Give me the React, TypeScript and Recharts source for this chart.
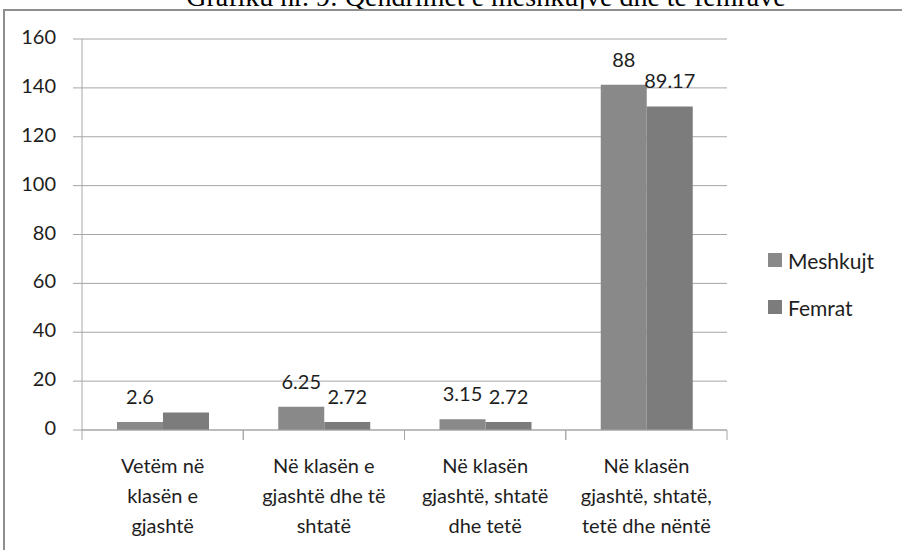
import { BarChart, Bar, XAxis, YAxis, CartesianGrid, LabelList } from "recharts";

const categories = ["cat1", "cat2", "cat3", "cat4"];
const categoryLines = [
  ["Vetëm në", "klasën e", "gjashtë"],
  ["Në klasën e", "gjashtë dhe të", "shtatë"],
  ["Në klasën", "gjashtë, shtatë", "dhe tetë"],
  ["Në klasën", "gjashtë, shtatë,", "tetë dhe nëntë"],
];
const meshkujt = [3.3, 9.5, 4.4, 141.3];
const femrat = [7.2, 3.3, 3.3, 132.4];
// printed labels do not match bar heights in the original, kept as shown
const meshkujtLabels = ["2.6", "6.25", "3.15", "88"];
const femratLabels = ["", "2.72", "2.72", "89.17"];
const yTicks = [0, 20, 40, 60, 80, 100, 120, 140, 160];

const series = [
  { key: "meshkujt", name: "Meshkujt", color: "#898989", labels: meshkujtLabels },
  { key: "femrat", name: "Femrat", color: "#7c7c7c", labels: femratLabels },
];

const data = categories.map((c, i) => ({
  cat: c,
  lines: categoryLines[i],
  meshkujt: meshkujt[i],
  femrat: femrat[i],
}));

const FONT = "Lato, 'Noto Sans', sans-serif";
const GRID = "#a6a6a6";
const TEXT = "#1e1e1e";
const PLOT_W = 645;
const BAND = PLOT_W / categories.length;

function CategoryTick({ x, y, index }: { x?: number; y?: number; index?: number }) {
  const lines = categoryLines[index ?? 0];
  return (
    <g>
      <line x1={x! - BAND / 2} x2={x! - BAND / 2} y1={430} y2={440} stroke={GRID} />
      <line x1={x! + BAND / 2} x2={x! + BAND / 2} y1={430} y2={440} stroke={GRID} />
      {lines.map((l, k) => (
        <text
          key={k}
          x={x}
          y={473 + k * 30}
          textAnchor="middle"
          fontFamily={FONT}
          fontSize={20}
          fill={TEXT}
        >
          {l}
        </text>
      ))}
    </g>
  );
}

function makeLabel(labels: string[]) {
  return function BarLabel(props: any) {
    const { x, y, width, index } = props;
    const t = labels[index];
    if (!t) return null;
    return (
      <text
        x={x + width / 2}
        y={y - 18}
        textAnchor="middle"
        fontFamily={FONT}
        fontSize={20}
        fill={TEXT}
      >
        {t}
      </text>
    );
  };
}

export default function App() {
  return (
    <div
      style={{
        position: "absolute",
        left: 0,
        top: 0,
        width: 902,
        height: 550,
        overflow: "hidden",
        background: "white",
      }}
    >
      <svg width={902} height={20} style={{ position: "absolute", left: 0, top: 0 }}>
        <text
          x={486}
          y={5.5}
          textAnchor="middle"
          fontFamily="'Liberation Serif', 'Times New Roman', serif"
          fontSize={28}
          fill="#000"
        >
          Grafiku nr. 9: Qëndrimet e meshkujve dhe të femrave
        </text>
      </svg>
      <div
        style={{
          position: "absolute",
          left: 3,
          top: 9,
          width: 1000,
          height: 700,
          border: "2px solid #8f8f8f",
          background: "white",
        }}
      />
      <div style={{ position: "absolute", left: 0, top: 0 }}>
        <BarChart
          width={902}
          height={550}
          data={data}
          margin={{ top: 39, right: 175, left: 0, bottom: 20 }}
          barGap={0}
          barSize={46}
        >
          <CartesianGrid vertical={false} stroke={GRID} />
          <XAxis
            dataKey="cat"
            height={100}
            axisLine={{ stroke: GRID }}
            tickLine={false}
            tick={<CategoryTick />}
            interval={0}
          />
          <YAxis
            width={82}
            domain={[0, 160]}
            ticks={yTicks}
            interval={0}
            tickSize={9}
            tickMargin={17}
            axisLine={{ stroke: GRID }}
            tickLine={{ stroke: GRID }}
            tick={{ fontFamily: FONT, fontSize: 20, fill: TEXT, dy: -2 }}
          />
          {series.map((s) => (
            <Bar key={s.key} dataKey={s.key} name={s.name} fill={s.color} isAnimationActive={false}>
              <LabelList dataKey={s.key} content={makeLabel(s.labels)} />
            </Bar>
          ))}
        </BarChart>
      </div>
      {series.map((s, i) => (
        <div
          key={s.key}
          style={{
            position: "absolute",
            left: 768,
            top: 246 + i * 47,
            height: 28,
            display: "flex",
            alignItems: "center",
            fontFamily: FONT,
            fontSize: 21,
            color: TEXT,
          }}
        >
          <div style={{ width: 14, height: 14, background: s.color, marginRight: 6 }} />
          {s.name}
        </div>
      ))}
    </div>
  );
}
